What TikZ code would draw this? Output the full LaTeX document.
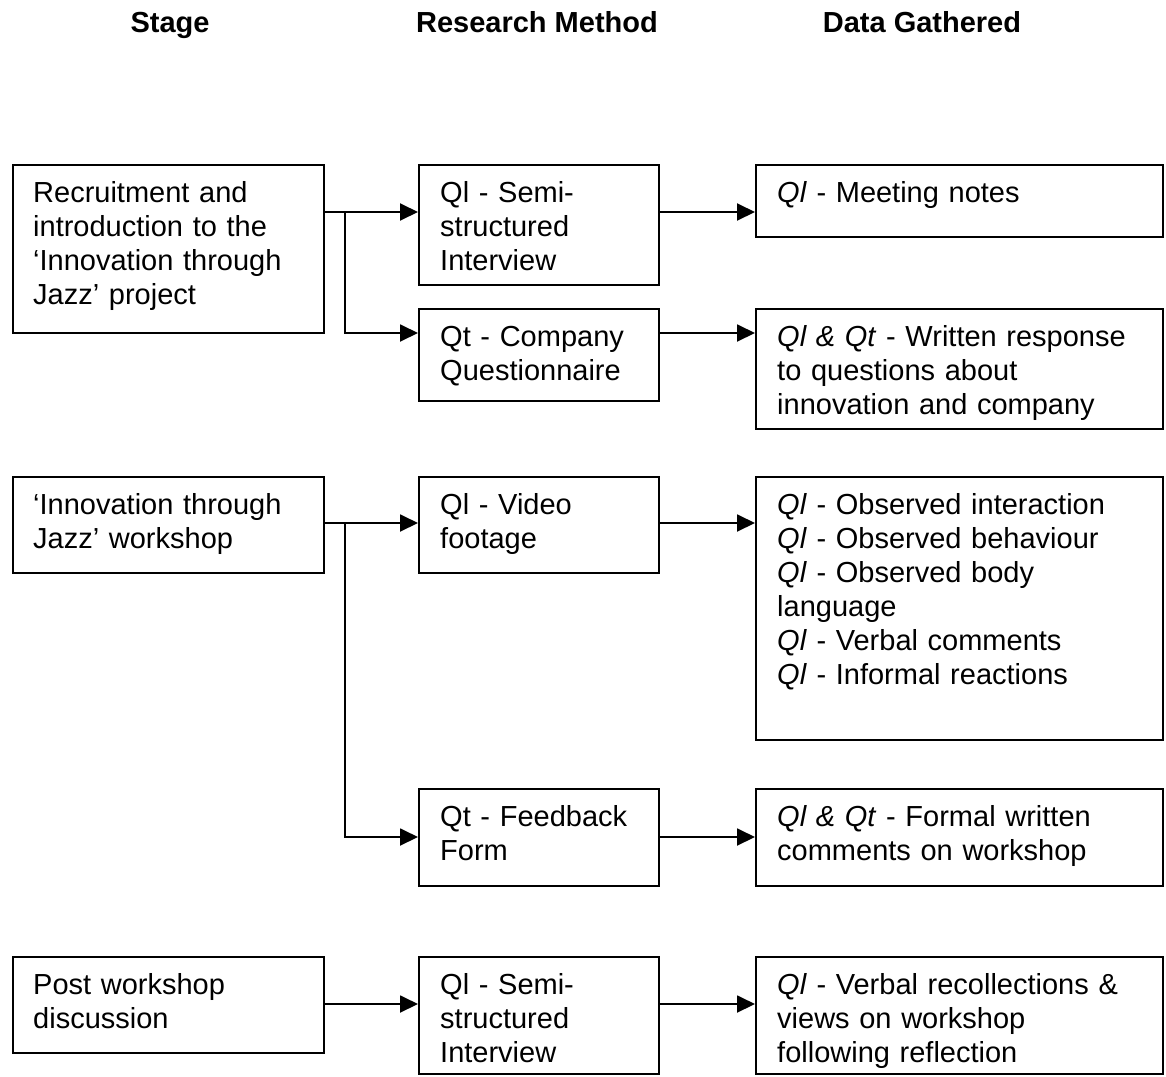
\documentclass[tikz,border=0pt]{standalone}
\usepackage{fontspec}
\setmainfont{Liberation Sans}
\usetikzlibrary{arrows.meta}

\begin{document}
\begin{tikzpicture}[x=1pt,y=-1pt,
  box/.style={draw, line width=1.9pt, inner sep=0pt, anchor=north west},
  txt/.style={inner sep=0pt, anchor=base west, align=left,
    font=\fontsize{29}{34}\selectfont},
  head/.style={inner sep=0pt, anchor=base, font=\fontsize{29}{34}\selectfont\bfseries},
  arr/.style={line width=1.9pt, -{Triangle[length=18pt,width=17pt]}},
  ln/.style={line width=1.9pt}]

\useasboundingbox (0,0) rectangle (1166,1076);

% column headings
\node[head] (hstage)  at (170,32) {Stage};
\node[head] (hmethod) at (537,32) {Research Method};
\node[head] (hdata)   at (922,32) {Data Gathered};

% stage boxes
\node[box, minimum width=311pt, minimum height=168pt] (s1) at (12,164) {};
\node[box, minimum width=311pt, minimum height=96pt]  (s2) at (12,476) {};
\node[box, minimum width=311pt, minimum height=96pt]  (s3) at (12,956) {};

% research method boxes
\node[box, minimum width=240pt, minimum height=120pt] (m1) at (418,164) {};
\node[box, minimum width=240pt, minimum height=92pt]  (m2) at (418,308) {};
\node[box, minimum width=240pt, minimum height=96pt]  (m3) at (418,476) {};
\node[box, minimum width=240pt, minimum height=97pt]  (m4) at (418,788) {};
\node[box, minimum width=240pt, minimum height=117pt] (m5) at (418,956) {};

% data boxes
\node[box, minimum width=407pt, minimum height=72pt]  (d1) at (755,164) {};
\node[box, minimum width=407pt, minimum height=120pt] (d2) at (755,308) {};
\node[box, minimum width=407pt, minimum height=263pt] (d3) at (755,476) {};
\node[box, minimum width=407pt, minimum height=97pt]  (d4) at (755,788) {};
\node[box, minimum width=407pt, minimum height=117pt] (d5) at (755,956) {};

% box texts
\node[txt, text width=290pt] (ts1) at ([shift={(21,38)}]s1.north west)
  {Recruitment and\\introduction to the\\`Innovation through\\Jazz' project};
\node[txt, text width=290pt] (ts2) at ([shift={(21,38)}]s2.north west)
  {`Innovation through\\Jazz' workshop};
\node[txt, text width=290pt] (ts3) at ([shift={(21,38)}]s3.north west)
  {Post workshop\\discussion};

\node[txt, text width=215pt] (tm1) at ([shift={(22,38)}]m1.north west)
  {Ql - Semi-\\structured\\Interview};
\node[txt, text width=215pt] (tm2) at ([shift={(22,38)}]m2.north west)
  {Qt - Company\\Questionnaire};
\node[txt, text width=215pt] (tm3) at ([shift={(22,38)}]m3.north west)
  {Ql - Video\\footage};
\node[txt, text width=215pt] (tm4) at ([shift={(22,38)}]m4.north west)
  {Qt - Feedback\\Form};
\node[txt, text width=215pt] (tm5) at ([shift={(22,38)}]m5.north west)
  {Ql - Semi-\\structured\\Interview};

\node[txt, text width=385pt] (td1) at ([shift={(22,38)}]d1.north west)
  {\textit{Ql} - Meeting notes};
\node[txt, text width=385pt] (td2) at ([shift={(22,38)}]d2.north west)
  {\textit{Ql \& Qt} - Written response\\to questions about\\innovation and company};
\node[txt, text width=385pt] (td3) at ([shift={(22,38)}]d3.north west)
  {\textit{Ql} - Observed interaction\\\textit{Ql} - Observed behaviour\\\textit{Ql} - Observed body\\language\\\textit{Ql} - Verbal comments\\\textit{Ql} - Informal reactions};
\node[txt, text width=385pt] (td4) at ([shift={(22,38)}]d4.north west)
  {\textit{Ql \& Qt} - Formal written\\comments on workshop};
\node[txt, text width=385pt] (td5) at ([shift={(22,38)}]d5.north west)
  {\textit{Ql} - Verbal recollections \&\\views on workshop\\following reflection};

% connector levels and branch points
\coordinate (r1) at (0,212);
\coordinate (r2) at (0,333);
\coordinate (r3) at (0,523);
\coordinate (r4) at (0,837);
\coordinate (r5) at (0,1004);
\coordinate (j1) at (345,212);
\coordinate (j2) at (345,523);

% stage to method
\draw[ln]  (s1.east |- r1) -- (j1);
\draw[arr] (j1) -- (m1.west |- r1);
\draw[arr] (j1) |- (m2.west |- r2);
\draw[ln]  (s2.east |- r3) -- (j2);
\draw[arr] (j2) -- (m3.west |- r3);
\draw[arr] (j2) |- (m4.west |- r4);
\draw[arr] (s3.east |- r5) -- (m5.west |- r5);

% method to data
\draw[arr] (m1.east |- r1) -- (d1.west |- r1);
\draw[arr] (m2.east |- r2) -- (d2.west |- r2);
\draw[arr] (m3.east |- r3) -- (d3.west |- r3);
\draw[arr] (m4.east |- r4) -- (d4.west |- r4);
\draw[arr] (m5.east |- r5) -- (d5.west |- r5);
\end{tikzpicture}
\end{document}
